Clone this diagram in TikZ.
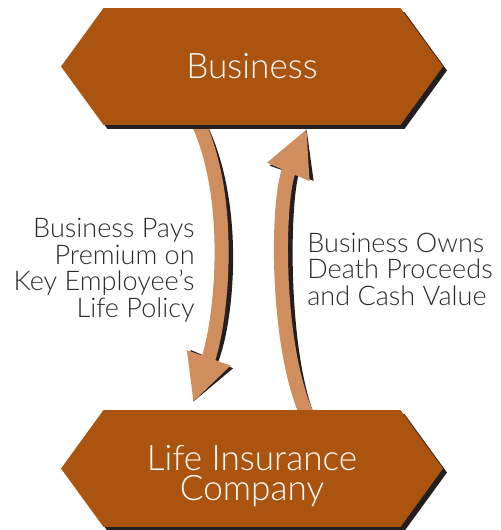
\documentclass[tikz,border=0pt]{standalone}
\usepackage{fontspec}
\setsansfont{Lato Light}
\usetikzlibrary{shapes.symbols, arrows.meta, shadows, calc, backgrounds}
\definecolor{BizBrown}{HTML}{AA5410}
\definecolor{ArrowTan}{HTML}{D08E5E}
\definecolor{ShadowBlack}{HTML}{231F20}
\definecolor{LabelGray}{HTML}{2B2B2B}

\begin{document}
\begin{tikzpicture}[
  x=0.02cm, y=-0.02cm,
  party/.style={shape=signal, signal to=west and east, signal pointer angle=108,
                fill=BizBrown, minimum width=7.64cm, minimum height=2.34cm,
                inner sep=0pt, align=center, text=white,
                font=\sffamily\fontsize{20}{17}\selectfont,
                drop shadow={shadow xshift=0.08cm, shadow yshift=-0.08cm,
                             fill=ShadowBlack, opacity=1}},
  flow/.style={line width=8pt, draw=ArrowTan,
               -{Triangle[length=0.95cm, width=0.85cm]}},
  flowshadow/.style={flow, draw=ShadowBlack, xshift=0.11cm, yshift=-0.04cm},
  lbl/.style={font=\sffamily\fontsize{15.4}{15}\selectfont, text=LabelGray,
              inner sep=0pt}
]
\useasboundingbox (0,0) rectangle (500,530);

% Parties
\node[party] (biz) at (252,66.5) {Business};
\node[party, text height=1.4cm] (life) at (252,468.5) {Life Insurance\\Company};

% Money flows, kept under the two parties
\begin{scope}[on background layer]
  \draw[flowshadow] ($(biz.south)+(-55,-5)$) .. controls (235,200) and (221,323) .. ($(life.north)+(-59,-7)$);
  \draw[flow] ($(biz.south)+(-55,-5)$) .. controls (235,200) and (221,323) .. ($(life.north)+(-59,-7)$);
  \draw[flowshadow] ($(life.north)+(54,3)$) .. controls (275,340) and (277,198) .. ($(biz.south)+(55,3)$);
  \draw[flow] ($(life.north)+(54,3)$) .. controls (275,340) and (277,198) .. ($(biz.south)+(55,3)$);
\end{scope}

% Labels
\node[lbl, anchor=base east, align=right] (paylbl) at (195,317)
  {Business Pays\\Premium on\\Key Employee’s\\Life Policy};
\node[lbl, anchor=base west, align=left] (ownlbl) at (307,305)
  {Business Owns\\Death Proceeds\\and Cash Value};

\end{tikzpicture}
\end{document}
